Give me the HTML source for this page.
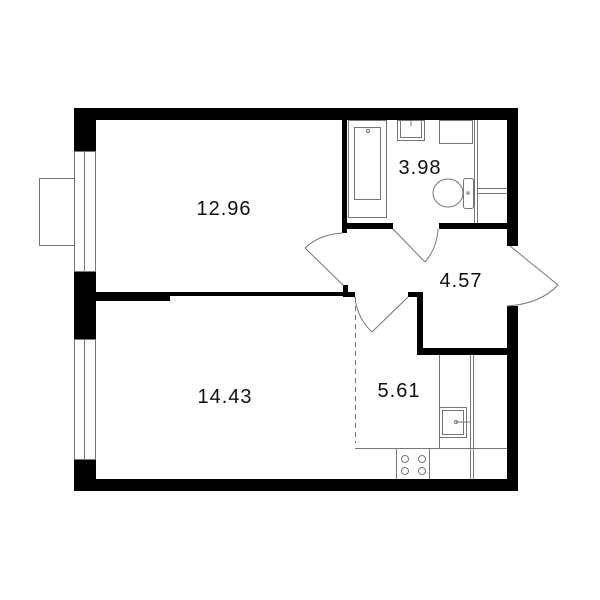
<!DOCTYPE html>
<html><head><meta charset="utf-8"><style>html,body{margin:0;padding:0;background:#fff}svg{display:block}</style></head><body>
<svg width="600" height="600" viewBox="0 0 600 600" xmlns="http://www.w3.org/2000/svg">
<g fill="#000">
<rect x="74" y="108" width="444" height="12"/>
<rect x="74" y="479" width="444" height="12"/>
<rect x="74" y="108" width="22" height="43"/>
<rect x="74" y="271" width="22" height="68"/>
<rect x="74" y="459" width="22" height="32"/>
<rect x="507" y="108" width="11" height="138"/>
<rect x="507" y="306" width="11" height="185"/>
<rect x="96" y="292" width="247" height="4"/>
<rect x="96" y="292" width="74" height="9"/>
<rect x="342" y="120" width="5" height="113"/>
<rect x="343" y="285" width="5" height="12"/>
<rect x="343" y="292" width="12" height="5"/>
<rect x="342" y="223" width="51" height="6"/>
<rect x="439" y="223" width="68" height="6"/>
<rect x="417" y="292" width="6" height="63"/>
<rect x="408" y="292" width="15" height="5"/>
<rect x="417" y="348" width="90" height="7"/>
</g>
<g fill="none" stroke="#777" stroke-width="1">
<rect x="74.5" y="151.5" width="21" height="120"/>
<line x1="84.5" y1="151" x2="84.5" y2="271"/>
<rect x="74.5" y="339.5" width="21" height="120"/>
<line x1="84.5" y1="339" x2="84.5" y2="459"/>
<rect x="39.5" y="178.5" width="35" height="67"/>
<line x1="305" y1="248" x2="343" y2="285"/>
<path d="M305 248 Q320 234 343 233"/>
<line x1="393" y1="229" x2="425" y2="262"/>
<path d="M425 262 Q437 248 438 229"/>
<line x1="408" y1="297" x2="372" y2="332"/>
<path d="M372 332 Q357 318 355 297"/>
<line x1="510" y1="246" x2="558" y2="285"/>
<path d="M558 285 Q540 304 507 306"/>
<line x1="355.5" y1="297" x2="355.5" y2="443" stroke-dasharray="5,4"/>
<rect x="348.5" y="120.5" width="38" height="97"/>
<rect x="354.5" y="127.5" width="26" height="72"/>
<circle cx="368" cy="131" r="1.5"/>
<rect x="397.5" y="120.5" width="27" height="20"/>
<rect x="400.5" y="120.5" width="21" height="17"/>
<line x1="411" y1="120" x2="411" y2="126"/>
<rect x="439.5" y="120.5" width="33" height="23"/>
<line x1="474.5" y1="120" x2="474.5" y2="223"/>
<line x1="477.5" y1="120" x2="477.5" y2="223"/>
<line x1="477" y1="188.5" x2="507" y2="188.5"/>
<line x1="477" y1="193.5" x2="507" y2="193.5"/>
<rect x="463.5" y="178.5" width="10" height="30" rx="2"/>
<ellipse cx="448" cy="193" rx="15" ry="14"/>
<rect x="467" y="192" width="2" height="2"/>
<line x1="439.5" y1="355" x2="439.5" y2="448"/>
<line x1="470.5" y1="355" x2="470.5" y2="479"/>
<line x1="473.5" y1="355" x2="473.5" y2="479"/>
<line x1="474" y1="448.5" x2="507" y2="448.5"/>
<line x1="355" y1="448.5" x2="473" y2="448.5"/>
<line x1="396.5" y1="448" x2="396.5" y2="479"/>
<line x1="429.5" y1="448" x2="429.5" y2="479"/>
<rect x="439.5" y="407.5" width="27" height="30"/>
<rect x="442.5" y="410.5" width="21" height="24"/>
<line x1="456" y1="422" x2="470" y2="422"/>
<circle cx="456" cy="422" r="1.5"/>
<circle cx="405" cy="459" r="3.5"/>
<circle cx="422" cy="459" r="3.5"/>
<circle cx="405" cy="471" r="3.5"/>
<circle cx="422" cy="471" r="3.5"/>
</g>
<g font-family="Liberation Sans, sans-serif" font-size="20" letter-spacing="1" fill="#111" text-anchor="middle">
<text x="224" y="215">12.96</text>
<text x="225" y="403">14.43</text>
<text x="420" y="174">3.98</text>
<text x="461" y="287">4.57</text>
<text x="399" y="397">5.61</text>
</g>
</svg>
</body></html>
